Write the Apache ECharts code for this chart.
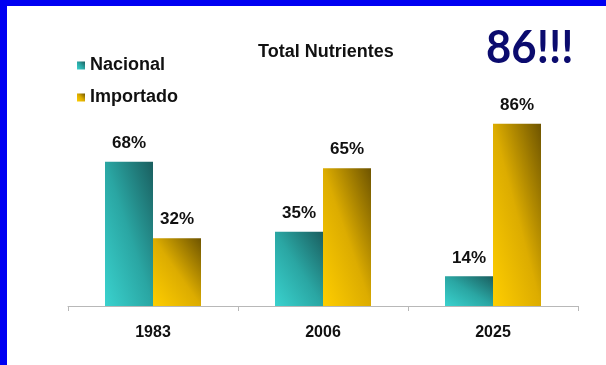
<!DOCTYPE html>
<html>
<head>
<meta charset="utf-8">
<script src="https://cdn.jsdelivr.net/npm/echarts@6/dist/echarts.min.js"></script>
<style>
  html, body { margin: 0; padding: 0; background: #ffffff; }
  #wrap { position: relative; width: 606px; height: 365px; overflow: hidden; background: #fff; }
  #chart { position: absolute; left: 0; top: 0; width: 606px; height: 365px; }
  .bt { position: absolute; left: 0; top: 0; width: 606px; height: 6px; background: #0000f2; }
  .bl { position: absolute; left: 0; top: 0; width: 7px; height: 365px; background: #0000f2; }
</style>
</head>
<body>
<div id="wrap">
  <div id="chart"></div>
  <div class="bt"></div>
  <div class="bl"></div>
</div>
<script>
const categories = ['1983', '2006', '2025'];
const nacional = [68, 35, 14];
const importado = [32, 65, 86];
const seriesNames = ['Nacional', 'Importado'];
const titleText = 'Total Nutrientes';
const bigText = '86!!!';

const FONT = '"Liberation Sans", Arial, sans-serif';
const BAR_W = 48;
const PX_PER_UNIT = 2.12; // plot height 212px for 0..100

const tealStops = [
  { offset: 0, color: '#3ad2ce' },
  { offset: 0.5, color: '#2aa6a3' },
  { offset: 1, color: '#1a5e5f' }
];
const goldStops = [
  { offset: 0, color: '#ffce00' },
  { offset: 0.5, color: '#dcac00' },
  { offset: 1, color: '#6e5400' }
];
// "diagonal up" gradient in the bar's own normalized box: isolines parallel to
// the top-left -> bottom-right diagonal, light at bottom-left, dark at top-right
function diagGrad(value, stops) {
  const w = BAR_W, h = Math.max(1, value * PX_PER_UNIT);
  const L2 = w * w + h * h;
  const dx = h * h / L2, dy = w * w / L2;
  return new echarts.graphic.LinearGradient(0.5 - dx, 0.5 + dy, 0.5 + dx, 0.5 - dy, stops);
}
function buildData(values, stops) {
  return values.map(v => ({ value: v, itemStyle: { color: diagGrad(v, stops) } }));
}
const legendTeal = new echarts.graphic.LinearGradient(0, 1, 1, 0, tealStops);
const legendGold = new echarts.graphic.LinearGradient(0, 1, 1, 0, goldStops);

const chart = echarts.init(document.getElementById('chart'), null, { renderer: 'canvas' });
const labelStyle = {
  show: true, position: 'top', distance: 10,
  formatter: '{c}%', fontFamily: FONT, fontWeight: 'bold', fontSize: 17, color: '#111'
};
chart.setOption({
  animation: false,
  backgroundColor: '#ffffff',
  title: [
    { text: titleText, left: 253, top: 38,
      textStyle: { fontFamily: FONT, fontWeight: 'bold', fontSize: 18, color: '#111' } }
  ],
  graphic: [
    { type: 'text', left: 486, top: 26, scaleX: 0.97,
      style: { text: bigText, fontFamily: 'Lato, sans-serif', fontWeight: 'bold', fontSize: 45, fill: '#0b0b6e' } }
  ],
  legend: {
    orient: 'vertical', left: 72, top: 51,
    itemWidth: 8, itemHeight: 8, itemGap: 13,
    icon: 'rect',
    textStyle: { fontFamily: FONT, fontWeight: 'bold', fontSize: 18, color: '#111', lineHeight: 19 },
    data: [
      { name: seriesNames[0], itemStyle: { color: legendTeal } },
      { name: seriesNames[1], itemStyle: { color: legendGold } }
    ]
  },
  grid: { left: 68, right: 28, top: 94, bottom: 59, containLabel: false },
  xAxis: {
    type: 'category', data: categories,
    axisLine: { show: true, lineStyle: { color: '#b8b8b8', width: 1 } },
    axisTick: { show: true, length: 5, lineStyle: { color: '#b8b8b8' } },
    axisLabel: { margin: 19, fontFamily: FONT, fontWeight: 'bold', fontSize: 16, color: '#111' }
  },
  yAxis: {
    type: 'value', min: 0, max: 100, show: false,
    splitLine: { show: false }
  },
  series: [
    { name: seriesNames[0], type: 'bar', data: buildData(nacional, tealStops), barWidth: BAR_W, barGap: '0%',
      itemStyle: { color: '#2aa6a3' }, label: labelStyle },
    { name: seriesNames[1], type: 'bar', data: buildData(importado, goldStops), barWidth: BAR_W, barGap: '0%',
      itemStyle: { color: '#dcac00' }, label: labelStyle }
  ]
});
</script>
</body>
</html>
